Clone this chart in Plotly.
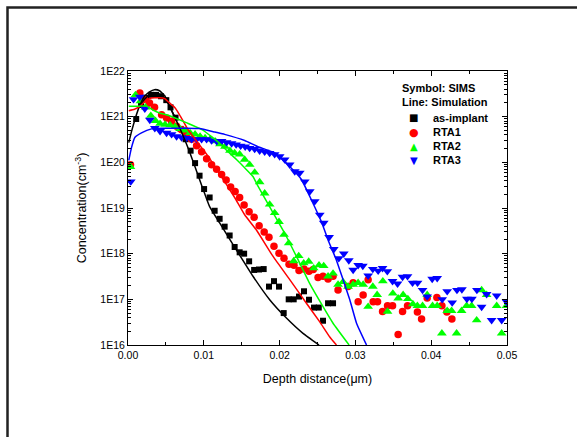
import plotly.graph_objects as go

# ---------------- data (depth in um, concentration in cm^-3) ----------------
asimp_x = [0.00108, 0.00172, 0.00238, 0.00304, 0.0037, 0.00436, 0.00505, 0.00561, 0.00627, 0.00694,
           0.0076, 0.00826, 0.00885, 0.00944, 0.01004, 0.01077, 0.01143, 0.01209, 0.01275, 0.01341,
           0.01407, 0.01473, 0.01532, 0.01598, 0.01664, 0.01728, 0.0179, 0.0186, 0.01926, 0.01992,
           0.02054, 0.0212, 0.02186, 0.02256, 0.02322, 0.02388, 0.02454, 0.02517, 0.02573, 0.02639,
           0.02705]
asimp_c = [8.9e20, 1.8e21, 2.6e21, 3.0e21, 3.0e21, 2.8e21, 2.3e21, 1.6e21, 9.5e20, 5.4e20,
           3.2e20, 1.8e20, 9.6e19, 5.1e19, 2.6e19, 1.7e19, 8.7e18, 5.8e18, 3.9e18, 2.5e18,
           1.4e18, 1.07e18, 1.0e18, 6.8e17, 4.4e17, 4.5e17, 4.6e17, 1.9e17, 2.5e17, 1.9e17,
           5.0e16, 1.0e17, 1.0e17, 1.15e17, 1.5e17, 9.8e16, 6.6e16, 6.6e16, 3.4e16, 8.2e16,
           8.2e16]

rta1_x = [0.00033, 0.00156, 0.00218, 0.00284, 0.0035, 0.00443, 0.00509, 0.00575, 0.00641, 0.00707,
          0.00773, 0.00839, 0.00905, 0.00971, 0.01037, 0.01103, 0.01169, 0.01235, 0.01295, 0.01354,
          0.01413, 0.01473, 0.01532, 0.01598, 0.01664, 0.0173, 0.01797, 0.0186, 0.01926, 0.01992,
          0.02058, 0.02124, 0.0219, 0.02256, 0.02322, 0.02388, 0.02444, 0.02507, 0.02573, 0.02639,
          0.02705, 0.02771, 0.02904, 0.0297, 0.03036, 0.03102, 0.03168, 0.03234, 0.03292, 0.03358,
          0.03424, 0.0349, 0.03564, 0.03622, 0.03688, 0.03818, 0.03873, 0.03947, 0.04075, 0.04141,
          0.04207, 0.04273]
rta1_c = [8.9e19, 3.3e21, 2.4e21, 2.0e21, 1.6e21, 1.1e21, 9.3e20, 7.9e20, 6.2e20, 5.2e20,
          4.2e20, 3.2e20, 2.3e20, 1.7e20, 1.2e20, 8.9e19, 7.1e19, 5.4e19, 4.1e19, 2.9e19,
          2.3e19, 1.7e19, 1.17e19, 8.3e18, 6.3e18, 4.1e18, 3.0e18, 2.3e18, 1.45e18, 1.02e18,
          7.9e17, 5.9e17, 5.6e17, 4.3e17, 4.6e17, 4.1e17, 4.5e17, 3.0e17, 3.2e17, 2.8e17,
          3.2e17, 1.6e17, 1.9e17, 2.3e17, 8.9e16, 1.25e17, 2.7e17, 8.9e16, 8.9e16, 5.4e16,
          7.2e16, 7.2e16, 1.7e16, 5.4e16, 7.2e16, 5.3e16, 3.7e16, 1.07e17, 1.1e17, 7.2e16,
          5.3e16, 3.7e16]

rta2_x = [0.00033, 0.00099, 0.00165, 0.00231, 0.00301, 0.00363, 0.00423, 0.00489, 0.00555, 0.00621,
          0.00687, 0.00753, 0.00819, 0.00885, 0.00951, 0.01017, 0.01083, 0.01149, 0.01213, 0.01279,
          0.01345, 0.01407, 0.01473, 0.01539, 0.01605, 0.01671, 0.01737, 0.01803, 0.01869, 0.01935,
          0.01992, 0.02058, 0.0212, 0.02186, 0.02252, 0.02318, 0.02384, 0.0245, 0.0252, 0.02582,
          0.02639, 0.02705, 0.02771, 0.02837, 0.02904, 0.0297, 0.03036, 0.03102, 0.03168, 0.0323,
          0.03287, 0.03362, 0.03424, 0.03494, 0.03564, 0.0363, 0.03692, 0.03758, 0.03818, 0.03886,
          0.03947, 0.04018, 0.04079, 0.04141, 0.04211, 0.04269, 0.04335, 0.04401, 0.04467, 0.04533,
          0.046, 0.04665, 0.04731, 0.04864, 0.0493, 0.04993]
rta2_c = [8.0e19, 3.0e21, 2.2e21, 1.6e21, 1.05e21, 8.1e20, 7.0e20, 6.7e20, 6.5e20, 6.0e20,
          5.4e20, 5.0e20, 4.4e20, 4.1e20, 3.7e20, 3.4e20, 3.2e20, 2.9e20, 2.5e20, 2.2e20,
          1.8e20, 1.6e20, 1.5e20, 1.15e20, 8.9e19, 6.0e19, 3.7e19, 2.1e19, 1.2e19, 7.8e18,
          5.0e18, 2.6e18, 1.7e18, 6.9e17, 8.9e17, 6.2e17, 6.7e17, 4.8e17, 5.6e17, 5.4e17,
          3.2e17, 3.7e17, 2.1e17, 2.4e17, 1.9e17, 2.1e17, 2.3e17, 2.1e17, 6.9e16, 1.9e17,
          1.26e17, 2.5e17, 5.4e16, 1.35e17, 1.05e17, 1.26e17, 1.02e17, 7.9e16, 7.2e16, 7.2e16,
          1.26e17, 7.2e16, 7.2e16, 1.8e16, 5.6e16, 5.6e16, 1.8e16, 5.6e16, 7.2e16, 7.2e16,
          3.5e16, 1.6e17, 1.26e17, 7.2e16, 1.8e16, 7.2e16]

rta3_x = [0.00037, 0.00073, 0.00156, 0.00222, 0.00288, 0.00354, 0.00423, 0.00509, 0.00575, 0.00641,
          0.00707, 0.00773, 0.00839, 0.00905, 0.00971, 0.01037, 0.01103, 0.01169, 0.01235, 0.01301,
          0.01367, 0.01427, 0.01486, 0.01546, 0.01605, 0.01671, 0.01737, 0.01803, 0.01869, 0.01935,
          0.02001, 0.02067, 0.02133, 0.022, 0.02266, 0.02332, 0.02398, 0.02464, 0.0253, 0.02582,
          0.02653, 0.02715, 0.02781, 0.02847, 0.02913, 0.0297, 0.03036, 0.03098, 0.03168, 0.0323,
          0.033, 0.03358, 0.03421, 0.0349, 0.03556, 0.03622, 0.03688, 0.03754, 0.0382, 0.03886,
          0.03947, 0.04013, 0.04079, 0.04145, 0.04211, 0.04277, 0.0434, 0.04405, 0.04471, 0.04537,
          0.04603, 0.04665, 0.04731, 0.04797, 0.04864, 0.0493, 0.04993]
rta3_c = [3.8e19, 2.4e21, 2.7e21, 1.5e21, 8.5e20, 5.6e20, 4.8e20, 4.4e20, 4.1e20, 3.7e20,
          3.5e20, 3.4e20, 3.2e20, 3.2e20, 3.2e20, 3.2e20, 3.0e20, 2.9e20, 2.9e20, 2.75e20,
          2.6e20, 2.45e20, 2.3e20, 2.2e20, 2.05e20, 1.95e20, 1.8e20, 1.7e20, 1.6e20, 1.5e20,
          1.35e20, 1.15e20, 8.9e19, 6.3e19, 5.9e19, 3.8e19, 2.3e19, 1.4e19, 7.1e18, 4.7e18,
          2.3e18, 1.25e18, 7.9e17, 1.0e18, 7.1e17, 4.4e17, 5.6e17, 5.4e17, 3.3e17, 4.6e17,
          4.2e17, 4.8e17, 4.1e17, 2.5e17, 2.2e17, 3.1e17, 3.2e17, 2.3e17, 2.3e17, 1.6e17,
          1.15e17, 2.8e17, 2.9e17, 1.0e17, 1.5e17, 8.5e16, 1.6e17, 1.65e17, 1.02e17, 1.02e17,
          1.6e17, 6.8e16, 1.3e17, 3.5e16, 1.2e17, 3.5e16, 8.9e16]

# simulation lines
sim0_x = [0.0001, 0.00046, 0.00099, 0.00152, 0.00218, 0.00284, 0.0035, 0.00416, 0.00482, 0.00548,
          0.00614, 0.0068, 0.00746, 0.00812, 0.00878, 0.00944, 0.0101, 0.01077, 0.01209, 0.01431,
          0.01649, 0.01869, 0.0209, 0.02309, 0.0252]
sim0_c = [2.7e20, 4.7e20, 9.5e20, 1.7e21, 2.8e21, 3.5e21, 3.9e21, 3.7e21, 2.9e21, 1.7e21,
          1.0e21, 5.8e20, 3.2e20, 1.7e20, 8.5e19, 4.2e19, 2.1e19, 1.07e19, 4.7e18, 1.2e18,
          3.2e17, 9.8e16, 3.9e16, 1.8e16, 1.0e16]
sim0b_x = [0.00152, 0.00218, 0.00284, 0.0035, 0.00416, 0.00482, 0.00548, 0.00614]
sim0b_c = [1.6e21, 2.4e21, 3.0e21, 3.2e21, 3.1e21, 2.6e21, 1.7e21, 1.0e21]

sim1_x = [0.0001, 0.00086, 0.00152, 0.00218, 0.00284, 0.0035, 0.00416, 0.00482, 0.00548, 0.00614,
          0.0068, 0.00795, 0.00927, 0.01059, 0.01209, 0.01407, 0.01539, 0.01694, 0.01914, 0.02134,
          0.02354, 0.02530, 0.02662, 0.02750]
sim1_c = [1.35e21, 1.45e21, 1.65e21, 2.1e21, 2.5e21, 2.6e21, 2.6e21, 2.5e21, 2.0e21, 1.6e21,
          1.1e21, 5.1e20, 2.6e20, 1.35e20, 5.6e19, 1.7e19, 7.1e18, 3.3e18, 8.7e17, 2.7e17,
          8.2e16, 3.2e16, 1.5e16, 1.0e16]

sim2_x = [0.0001, 0.00152, 0.00244, 0.00328, 0.00416, 0.00548, 0.00769, 0.00988, 0.01209, 0.01275,
          0.01431, 0.01539, 0.01649, 0.01715, 0.01892, 0.02067, 0.02222, 0.02398, 0.02573, 0.02705,
          0.02917]
sim2_c = [1.7e21, 1.7e21, 1.7e21, 1.4e21, 1.2e21, 1.05e21, 7.4e20, 5.1e20, 2.6e20, 2.0e20,
          1.15e20, 7.6e19, 4.9e19, 3.0e19, 9.1e18, 2.8e18, 8.7e17, 2.2e17, 6.9e16, 3.0e16,
          1.0e16]

sim3_x = [0.0001, 0.00046, 0.0009, 0.00178, 0.0031, 0.00443, 0.00618, 0.00769, 0.00944, 0.01147,
          0.01275, 0.01539, 0.01715, 0.01935, 0.02156, 0.02288, 0.0242, 0.02552, 0.02639, 0.0275,
          0.02837, 0.02926, 0.03015, 0.03147]
sim3_c = [1.1e20, 2.1e20, 3.5e20, 4.4e20, 5.4e20, 5.6e20, 5.6e20, 5.6e20, 5.5e20, 4.6e20,
          4.1e20, 3.0e20, 2.2e20, 1.6e20, 7.4e19, 4.2e19, 1.5e19, 5.0e18, 2.0e18, 7.2e17,
          2.7e17, 9.8e16, 3.0e16, 1.0e16]

y_tickvals = [1e16, 1e17, 1e18, 1e19, 1e20, 1e21, 1e22]
y_ticktext = ["1E16", "1E17", "1E18", "1E19", "1E20", "1E21", "1E22"]
legend_names = ["as-implant", "RTA1", "RTA2", "RTA3"]
legend_colors = ["#000000", "#FF0000", "#00FF00", "#0000FF"]
legend_glyphs = ["\u25A0", "\u25CF", "\u25B2", "\u25BC"]

# ---------------- figure ----------------
FONT = "Liberation Sans, Arial, sans-serif"
fig = go.Figure()

sims = [(asimp_x, asimp_c, "square", 6), (rta1_x, rta1_c, "circle", 7.5),
        (rta2_x, rta2_c, "triangle-up", 8.5), (rta3_x, rta3_c, "triangle-down", 8.5)]
for (xs, cs, sym, sz), name, col in zip(sims, legend_names, legend_colors):
    fig.add_trace(go.Scatter(x=xs, y=cs, mode="markers", name=name, showlegend=False,
                             marker=dict(symbol=sym, size=sz, color=col, line=dict(width=0))))

lines = [(sim0_x, sim0_c, "#000000"), (sim0b_x, sim0b_c, "#000000"), (sim1_x, sim1_c, "#FF0000"),
         (sim2_x, sim2_c, "#00FF00"), (sim3_x, sim3_c, "#0000FF")]
for xs, cs, col in lines:
    fig.add_trace(go.Scatter(x=xs, y=cs, mode="lines", showlegend=False,
                             line=dict(color=col, width=1.5, shape="spline", smoothing=0.4)))

L, R, T, B = 128, 70, 71, 92
W, H = 577, 437
pw, ph = W - L - R, H - T - B

def px(xp):
    return (xp - L) / pw

def py(yp):
    return (H - B - yp) / ph

minor_vals = [float(m) * 10.0 ** e for e in range(16, 22) for m in range(2, 10)]

fig.update_xaxes(range=[0, 0.05], tickmode="array",
                 tickvals=[0, 0.01, 0.02, 0.03, 0.04, 0.05],
                 ticktext=["0.00", "0.01", "0.02", "0.03", "0.04", "0.05"],
                 ticks="inside", ticklen=5, tickwidth=1, tickcolor="black",
                 showline=True, linecolor="black", linewidth=1, mirror="allticks",
                 showgrid=False, zeroline=False,
                 minor=dict(tickmode="array", tickvals=[0.005, 0.015, 0.025, 0.035, 0.045],
                            ticks="inside", ticklen=3, tickcolor="black"),
                 tickfont=dict(family=FONT, size=10.5, color="black"),
                 title=dict(text="Depth distance(\u03bcm)", standoff=14,
                            font=dict(family=FONT, size=12.5, color="black")))
fig.update_yaxes(type="log", range=[16, 22], tickmode="array",
                 tickvals=y_tickvals, ticktext=y_ticktext,
                 ticks="inside", ticklen=5, tickwidth=1, tickcolor="black",
                 showline=True, linecolor="black", linewidth=1, mirror="allticks",
                 showgrid=False, zeroline=False,
                 minor=dict(tickmode="array", tickvals=minor_vals, ticks="inside",
                            ticklen=3, tickcolor="black"),
                 tickfont=dict(family=FONT, size=10.5, color="black"),
                 title=dict(text="Concentration(cm<sup>-3</sup>)", standoff=10,
                            font=dict(family=FONT, size=12.5, color="black")))

ann = [
    dict(text="<b>Symbol: SIMS</b>", x=px(400), y=py(87.5)),
    dict(text="<b>Line: Simulation</b>", x=px(400), y=py(101.7)),
]
item_y = [117.5, 132, 146, 160]
glyph_sizes = [10, 11, 10, 10]
for name, col, g, yy, gs in zip(legend_names, legend_colors, legend_glyphs, item_y, glyph_sizes):
    ann.append(dict(text=g, x=px(413.5), y=py(yy), xanchor="center",
                    font=dict(family="DejaVu Sans", size=gs, color=col)))
    ann.append(dict(text="<b>" + name + "</b>", x=px(430.5), y=py(yy)))
for a in ann:
    a.setdefault("xanchor", "left")
    a.setdefault("font", dict(family=FONT, size=11, color="black"))
    fig.add_annotation(xref="paper", yref="paper", yanchor="middle", showarrow=False, **a)

# outer frame
fig.add_shape(type="rect", xref="paper", yref="paper",
              x0=px(7.5), x1=px(590), y0=py(7.5), y1=py(450),
              line=dict(color="#222222", width=2.5), fillcolor="rgba(0,0,0,0)")

fig.update_layout(width=W, height=H, margin=dict(l=L, r=R, t=T, b=B),
                  paper_bgcolor="white", plot_bgcolor="white",
                  font=dict(family=FONT, color="black"))
fig.write_html("out.html")
